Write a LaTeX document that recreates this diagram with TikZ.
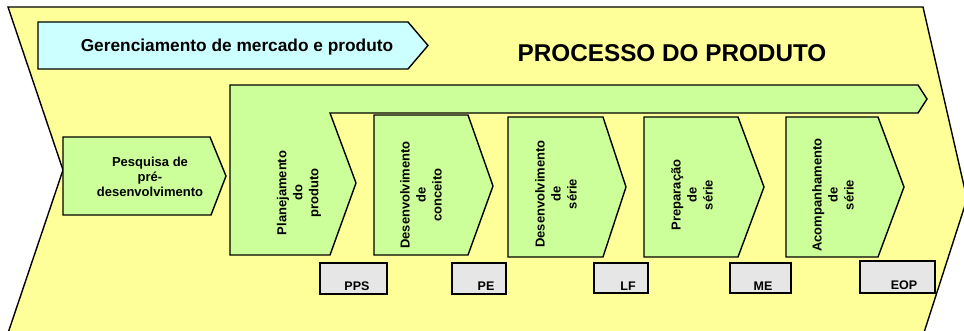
\documentclass[tikz,border=0pt]{standalone}
\usepackage{fontspec}
\setmainfont{Liberation Sans}
\definecolor{ylw}{HTML}{FFFF99}
\definecolor{grn}{HTML}{CCFF99}
\definecolor{cyn}{HTML}{CCFFFF}
\definecolor{gry}{HTML}{E6E6E6}
\tikzset{
  shp/.style={draw=black, line width=1.4pt, line join=miter},
  vtxt/.style={rotate=90, align=center, font=\fontsize{13}{16}\selectfont\bfseries, inner sep=0pt},
  htxt/.style={align=center, font=\fontsize{13}{15}\selectfont\bfseries, inner sep=0pt},
  gbox/.style={shp, fill=gry},
  gtxt/.style={font=\fontsize{12.5}{14}\selectfont\bfseries, inner sep=0pt}
}
\begin{document}
\begin{tikzpicture}[x=1pt,y=-1pt]
\useasboundingbox (0,0) rectangle (964,331);
\clip (0,0) rectangle (964,331);
% big yellow chevron
\path[shp, fill=ylw] (8,7) -- (923,7) -- (967,199) -- (920,345) -- (4,345) -- (63,170) -- cycle;
% cyan arrow
\path[shp, fill=cyn] (38,22) -- (408,22) -- (428,45.5) -- (408,69) -- (38,69) -- cycle;
\node[font=\fontsize{17.3}{19}\selectfont\bfseries, inner sep=0pt] (gm) at (237,47) {Gerenciamento de mercado e produto};
\node[font=\fontsize{24.3}{26}\selectfont\bfseries, inner sep=0pt] (pp) at (672,53) {PROCESSO DO PRODUTO};
% band + planejamento
\path[shp, fill=grn] (230,85) -- (918,85) -- (927,99) -- (918,113) -- (330,113) -- (356,183) -- (330,255) -- (230,255) -- cycle;
% pesquisa
\path[shp, fill=grn] (63,137) -- (210,137) -- (226,176) -- (211,215) -- (63,215) -- cycle;
\node[htxt] (pq) at (150,177) {Pesquisa de\\pré-\\desenvolvimento};
% phase boxes
\path[shp, fill=grn] (374,115) -- (468,115) -- (493,186) -- (468,255) -- (374,255) -- cycle;
\path[shp, fill=grn] (508,117) -- (603,117) -- (626,187) -- (603,257) -- (508,257) -- cycle;
\path[shp, fill=grn] (644,117) -- (738,117) -- (764,187) -- (738,257) -- (644,257) -- cycle;
\path[shp, fill=grn] (786,117) -- (878,117) -- (904,187) -- (878,257) -- (786,257) -- cycle;
\node[vtxt] (pl) at (299,193) {Planejamento\\do\\produto};
\node[vtxt] (dc) at (421,195) {Desenvolvimento\\de\\conceito};
\node[vtxt] (ds) at (556,194) {Desenvolvimento\\de\\série};
\node[vtxt] (ps) at (692,195) {Preparação\\de\\série};
\node[vtxt] (as) at (833,195) {Acompanhamento\\de\\série};
% gates
\path[gbox] (320,263) rectangle (387,294);
\path[gbox] (452,263) rectangle (506,294);
\path[gbox] (594,263) rectangle (648,293);
\path[gbox] (730,263) rectangle (791,293);
\path[gbox] (860,261) rectangle (935,293);
\node[gtxt] (g1) at (357,286.5) {PPS};
\node[gtxt] (g2) at (486,286.5) {PE};
\node[gtxt] (g3) at (628,286.5) {LF};
\node[gtxt] (g4) at (763,286.5) {ME};
\node[gtxt] (g5) at (904,285.5) {EOP};
\end{tikzpicture}
\end{document}
